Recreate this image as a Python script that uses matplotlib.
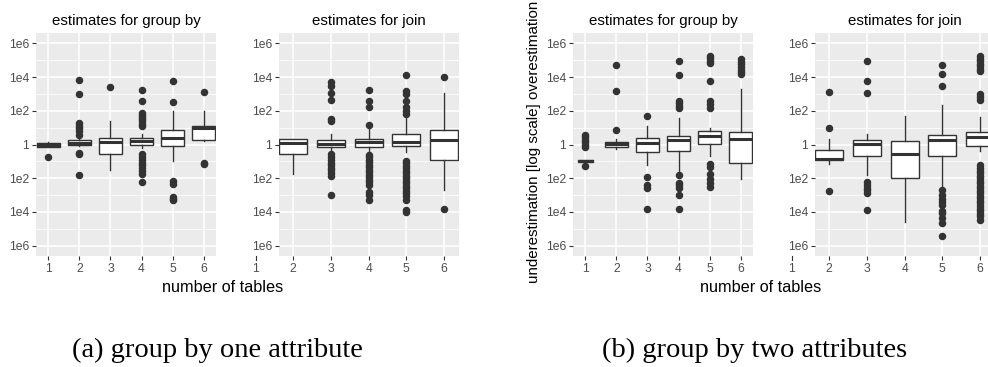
import matplotlib
matplotlib.use("Agg")
import matplotlib.pyplot as plt

plt.rcParams['font.family'] = ['Liberation Sans', 'DejaVu Sans']

# values are log10(estimate / true)
# (a) group by one attribute, panel "estimates for group by"
a_gb_pos = [1, 2, 3, 4, 5, 6]
a_gb_q1 = [-0.16, -0.02, -0.57, -0.02, -0.10, 0.28]
a_gb_med = [0.00, 0.10, 0.14, 0.18, 0.36, 0.95]
a_gb_q3 = [0.10, 0.24, 0.41, 0.39, 0.87, 1.12]
a_gb_lo = [-0.16, -0.10, -1.54, -0.22, -0.99, 0.20]
a_gb_hi = [0.14, 0.47, 1.42, 0.63, 1.97, 1.97]
a_gb_out = [
    [-0.77],
    [3.83, 2.98, 1.26, 1.12, 0.97, 0.79, 0.57, -0.51, -0.59, -1.80],
    [3.43],
    [3.24, 2.57, 1.89, 1.78, 1.66, 1.54, 1.38, 1.22, 1.07,
     -0.59, -0.75, -0.91, -1.07, -1.22, -1.38, -1.58, -1.74, -2.23],
    [3.75, 2.55, -2.19, -2.33, -3.12, -3.22, -3.32],
    [3.12, -1.09, -1.18],
]

# (a) panel "estimates for join"
a_jn_pos = [2, 3, 4, 5, 6]
a_jn_q1 = [-0.59, -0.12, -0.12, -0.06, -0.91]
a_jn_med = [0.08, 0.04, 0.14, 0.14, 0.24]
a_jn_q3 = [0.30, 0.28, 0.32, 0.63, 0.87]
a_jn_lo = [-1.74, -0.39, -0.45, -0.45, -2.72]
a_jn_hi = [0.34, 0.63, 1.03, 1.62, 3.04]
a_jn_out = [
    [],
    [3.69, 3.49, 3.04, 2.66, 1.52, 1.38,
     -0.59, -0.75, -0.91, -1.07, -1.22, -1.38, -1.54, -1.70, -1.89, -3.02],
    [3.24, 2.57, 2.25, 1.18,
     -0.60, -0.75, -0.90, -1.05, -1.20, -1.35, -1.50, -1.65, -1.80, -1.95,
     -2.10, -2.25, -2.43, -2.82, -3.00, -3.30],
    [4.14, 3.16, 3.00, 2.57, 2.20, 2.00, 1.80,
     -0.95, -1.10, -1.25, -1.40, -1.55, -1.70, -1.85, -2.00, -2.15, -2.30,
     -2.45, -2.60, -2.75, -2.90, -3.05, -3.30, -3.90, -4.00],
    [3.99, -3.85],
]

# (b) group by two attributes, panel "estimates for group by"
b_gb_pos = [1, 2, 3, 4, 5, 6]
b_gb_q1 = [-1.01, -0.12, -0.47, -0.36, 0.04, -1.09]
b_gb_med = [-0.97, 0.04, 0.08, 0.28, 0.53, 0.32]
b_gb_q3 = [-0.93, 0.14, 0.37, 0.49, 0.83, 0.77]
b_gb_lo = [-1.01, -0.26, -1.24, -1.64, -0.71, -2.07]
b_gb_hi = [-0.93, 0.34, 1.12, 1.58, 0.99, 3.30]
b_gb_out = [
    [0.59, 0.43, 0.28, 0.14, 0.00, -0.16, -1.28],
    [4.72, 3.16, 0.89],
    [1.68, -1.93, -2.43, -2.57, -3.85],
    [4.97, 4.14, 2.60, 2.45, 2.30, 2.17, -1.80, -2.29, -2.43, -2.57, -2.98, -3.85],
    [5.27, 5.13, 4.97, 4.83, 3.75, 2.57, 2.41, 2.17,
     -1.18, -1.34, -1.74, -2.03, -2.29, -2.53],
    [5.07, 4.90, 4.75, 4.60, 4.45, 4.30, 4.18],
]

# (b) panel "estimates for join"
b_jn_pos = [2, 3, 4, 5, 6]
b_jn_q1 = [-0.91, -0.67, -1.99, -0.71, -0.10]
b_jn_med = [-0.85, 0.04, -0.57, 0.26, 0.43]
b_jn_q3 = [-0.32, 0.28, 0.22, 0.55, 0.75]
b_jn_lo = [-1.14, -1.84, -4.60, -2.62, -0.36]
b_jn_hi = [0.34, 0.63, 1.72, 2.37, 1.66]
b_jn_out = [
    [3.10, 0.97, -2.76],
    [4.97, 3.79, 3.06, -2.25, -2.41, -2.57, -2.72, -2.88, -3.91],
    [],
    [4.74, 4.18, 3.49, -2.72, -3.00, -3.26, -3.40, -3.60, -3.93, -4.09,
     -4.38, -4.68, -5.45],
    [5.23, 5.07, 4.93, 4.77, 4.64, 4.48, 4.34, 3.00, 2.80, 2.64,
     -1.24, -1.40, -1.55, -1.70, -1.85, -2.00, -2.15, -2.30, -2.45, -2.60,
     -2.75, -2.90, -3.05, -3.20, -3.35, -3.50, -3.65, -3.80, -3.95, -4.10,
     -4.25, -4.50],
]

y_ticks = [-6, -4, -2, 0, 2, 4, 6]
y_labels = ["1e6", "1e4", "1e2", "1", "1e2", "1e4", "1e6"]
x_ticks = [1, 2, 3, 4, 5, 6]

DARK = "#333333"
GREY_TXT = "#4D4D4D"


def draw_panel(ax, pos, q1, med, q3, lo, hi, out, title, xlim, widths=None):
    stats = []
    for i in range(len(pos)):
        stats.append(dict(q1=q1[i], med=med[i], q3=q3[i],
                          whislo=lo[i], whishi=hi[i], fliers=out[i]))
    if widths is None:
        widths = [0.75] * len(pos)
    ax.set_facecolor("#EBEBEB")
    ax.bxp(stats, positions=pos, widths=widths, showcaps=False,
           patch_artist=True,
           boxprops=dict(facecolor="white", edgecolor=DARK, linewidth=1.0),
           whiskerprops=dict(color=DARK, linewidth=1.0),
           medianprops=dict(color=DARK, linewidth=2.2),
           flierprops=dict(marker="o", markersize=4.4, markerfacecolor=DARK,
                           markeredgecolor=DARK, linestyle="none"),
           zorder=3)
    ax.set_xlim(*xlim)
    ax.set_ylim(-6.62, 6.62)
    ticks = [t for t in x_ticks if xlim[0] < t < xlim[1]]
    ax.set_xticks(ticks)
    ax.set_xticklabels([str(t) for t in ticks])
    ax.set_yticks(y_ticks)
    ax.set_yticklabels(y_labels)
    ax.set_yticks([-5, -3, -1, 1, 3, 5], minor=True)
    ax.grid(True, which="major", color="white", linewidth=1.1, zorder=0)
    ax.grid(True, which="minor", axis="y", color="white", linewidth=0.55, zorder=0)
    ax.set_axisbelow(True)
    ax.tick_params(axis="both", which="major", length=3, width=0.8, color=DARK,
                   labelsize=8.7, labelcolor=GREY_TXT, pad=1.8)
    ax.tick_params(axis="y", which="minor", length=0)
    for s in ax.spines.values():
        s.set_visible(False)
    ax.set_title(title, fontsize=10.8, pad=6)
    if xlim[0] > 1:
        # stray "1" tick that sits left of the panel
        ax.plot([1, 1], [0, -0.018], transform=ax.get_xaxis_transform(),
                color=DARK, linewidth=0.8, clip_on=False)
        ax.annotate("1", xy=(1, 0), xycoords=("data", "axes fraction"),
                    xytext=(0, -5), textcoords="offset points",
                    ha="center", va="top", fontsize=8.7, color=GREY_TXT,
                    annotation_clip=False)


fig = plt.figure(figsize=(9.88, 3.67), dpi=100)
W, H = 988.0, 367.0


def add_ax(x0, x1, y0=33, y1=256):
    return fig.add_axes([x0 / W, 1 - y1 / H, (x1 - x0) / W, (y1 - y0) / H])


ax1 = add_ax(36, 216)
ax2 = add_ax(279, 459)
ax3 = add_ax(573, 753)
ax4 = add_ax(815, 995)

draw_panel(ax1, a_gb_pos, a_gb_q1, a_gb_med, a_gb_q3, a_gb_lo, a_gb_hi, a_gb_out,
           "estimates for group by", (0.6, 6.4))
draw_panel(ax2, a_jn_pos, a_jn_q1, a_jn_med, a_jn_q3, a_jn_lo, a_jn_hi, a_jn_out,
           "estimates for join", (1.62, 6.4))
draw_panel(ax3, b_gb_pos, b_gb_q1, b_gb_med, b_gb_q3, b_gb_lo, b_gb_hi, b_gb_out,
           "estimates for group by", (0.6, 6.4),
           widths=[0.48, 0.75, 0.75, 0.75, 0.75, 0.75])
draw_panel(ax4, b_jn_pos, b_jn_q1, b_jn_med, b_jn_q3, b_jn_lo, b_jn_hi, b_jn_out,
           "estimates for join", (1.62, 6.4))

fig.text(223 / W, 1 - 287 / H, "number of tables", ha="center", va="center",
         fontsize=11.7)
fig.text(761 / W, 1 - 287 / H, "number of tables", ha="center", va="center",
         fontsize=11.7)
fig.text(534 / W, 1 - 283 / H, "underestimation [log scale] overestimation",
         ha="center", va="bottom", rotation=90, fontsize=10.9)

fig.text(72 / W, 1 - 357 / H, "(a) group by one attribute", ha="left",
         va="baseline", fontsize=20.5, family=["Liberation Serif", "DejaVu Serif"])
fig.text(602 / W, 1 - 357 / H, "(b) group by two attributes", ha="left",
         va="baseline", fontsize=20.5, family=["Liberation Serif", "DejaVu Serif"])

fig.savefig("out.png", dpi=100)
